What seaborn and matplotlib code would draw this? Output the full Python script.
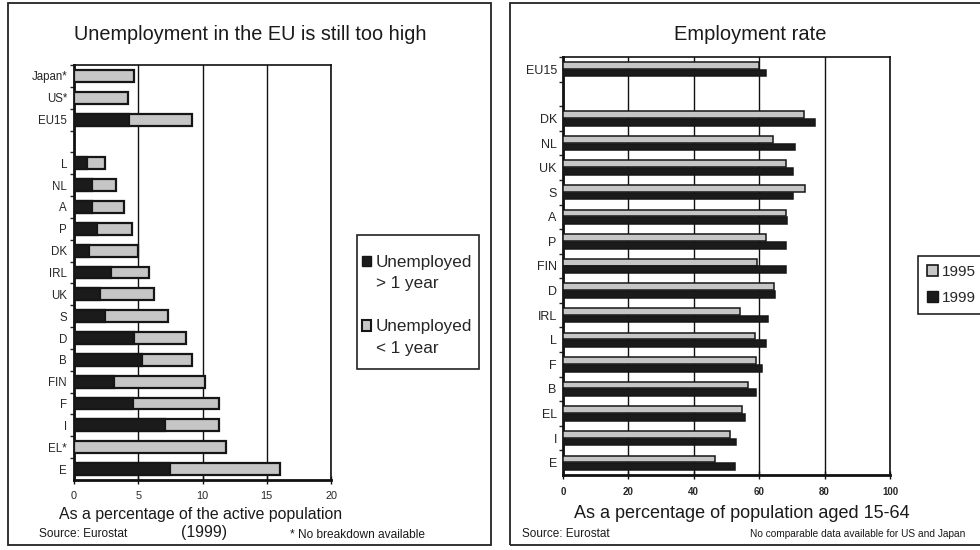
import numpy as np
import pandas as pd
import matplotlib
matplotlib.use("Agg")
import matplotlib.pyplot as plt
from matplotlib.patches import Patch, Rectangle
import seaborn as sns

# --- Unemployment, 1999, % of active population -------------------------
unemp_countries = ["Japan*", "US*", "EU15", "", "L", "NL", "A", "P", "DK",
                   "IRL", "UK", "S", "D", "B", "FIN", "F", "I", "EL*", "E"]
unemp_total = [4.7, 4.2, 9.2, np.nan, 2.4, 3.3, 3.9, 4.5, 5.0,
               5.8, 6.2, 7.3, 8.7, 9.2, 10.2, 11.3, 11.3, 11.8, 16.0]
unemp_long = [np.nan, np.nan, 4.3, np.nan, 1.0, 1.4, 1.4, 1.8, 1.2,
              2.9, 2.0, 2.4, 4.7, 5.3, 3.1, 4.6, 7.1, np.nan, 7.5]
unemp_ticks = [0, 5, 10, 15, 20]

# --- Employment rate, % of population aged 15-64 ------------------------
emp_countries = ["EU15", "", "DK", "NL", "UK", "S", "A", "P", "FIN", "D",
                 "IRL", "L", "F", "B", "EL", "I", "E"]
emp_1995 = [59.9, np.nan, 73.6, 64.2, 68.1, 73.9, 68.1, 62.2, 59.3, 64.5,
            54.0, 58.8, 59.1, 56.5, 54.7, 51.2, 46.4]
emp_1999 = [62.0, np.nan, 77.0, 70.9, 70.3, 70.3, 68.5, 68.1, 68.1, 64.9,
            62.7, 62.0, 61.0, 59.1, 55.6, 53.0, 52.5]
emp_years = ["1995", "1999"]
emp_ticks = [0, 20, 40, 60, 80, 100]

DARK = "#1b1b1b"
LIGHT = "#c6c6c6"
EDGE = "#161616"
INK = "#1a1a1a"

sns.set_style("white")
plt.rcParams["font.family"] = ["Liberation Sans", "DejaVu Sans"]

fig = plt.figure(figsize=(9.8, 5.5), dpi=100)
W, H = 980, 550


def fx(px):
    return px / W


def fy(py):
    return 1 - py / H


def box(x0, y0, x1, y1, lw=1.3):
    fig.patches.append(Rectangle((fx(x0), fy(y1)), (x1 - x0) / W, (y1 - y0) / H,
                                 transform=fig.transFigure, fill=False,
                                 edgecolor="#222222", lw=lw, zorder=0))


# panel frames
box(8, 3, 491, 545)
box(510, 3, 990, 545)

# ------------------------------------------------------------------ left
ax1 = fig.add_axes([fx(74), fy(480), (331 - 74) / W, (480 - 65) / H])
unemp = pd.DataFrame({"country": unemp_countries, "total": unemp_total,
                      "long": unemp_long})
sns.barplot(data=unemp.dropna(subset=["total"]), x="total", y="country",
            order=unemp_countries, color=LIGHT, saturation=1, width=0.54,
            edgecolor=EDGE, linewidth=1.6, errorbar=None, ax=ax1, zorder=3)
sns.barplot(data=unemp.dropna(subset=["long"]), x="long", y="country",
            order=unemp_countries, color=DARK, saturation=1, width=0.54,
            edgecolor=EDGE, linewidth=1.6, errorbar=None, ax=ax1, zorder=3)
ax1.set_xlim(0, 20)
ax1.set_ylim(len(unemp_countries) - 0.5, -0.5)
ax1.set_xticks(unemp_ticks)
ax1.set_xticklabels([str(t) for t in unemp_ticks], fontsize=7.8)
ax1.set_xlabel("")
ax1.set_ylabel("")
ax1.tick_params(axis="y", length=0, labelsize=8.3, pad=5)
ax1.set_yticks(np.arange(-0.5, len(unemp_countries) - 0.5), minor=True)
ax1.tick_params(axis="y", which="minor", length=3, width=1, direction="out",
                left=True, color="#222222")
ax1.tick_params(axis="x", length=6, width=1, direction="inout", pad=5,
                color="#111111", bottom=True)

# ----------------------------------------------------------------- right
ax2 = fig.add_axes([fx(563), fy(475), (890 - 563) / W, (475 - 57) / H])
emp = pd.DataFrame({
    "country": emp_countries * 2,
    "year": [emp_years[0]] * len(emp_countries) + [emp_years[1]] * len(emp_countries),
    "rate": emp_1995 + emp_1999,
}).dropna()
sns.barplot(data=emp, x="rate", y="country", hue="year", order=emp_countries,
            hue_order=emp_years, palette={"1995": LIGHT, "1999": DARK},
            saturation=1, width=0.62, gap=0.12, edgecolor=EDGE, linewidth=1.1,
            errorbar=None, ax=ax2, zorder=3, legend=False)
ax2.set_xlim(0, 100)
ax2.set_ylim(len(emp_countries) - 0.5, -0.5)
ax2.set_xticks(emp_ticks)
ax2.set_xticklabels([str(t) for t in emp_ticks], fontsize=7, fontweight="bold")
ax2.set_xlabel("")
ax2.set_ylabel("")
ax2.tick_params(axis="y", length=0, labelsize=9, pad=4.5)
ax2.set_yticks(np.arange(-0.5, len(emp_countries) - 0.5), minor=True)
ax2.tick_params(axis="y", which="minor", length=3, width=1, direction="out",
                left=True, color="#222222")
ax2.tick_params(axis="x", length=6, width=1, direction="inout", pad=5.5,
                color="#111111", bottom=True)

for ax in (ax1, ax2):
    ax.set_axisbelow(True)
    ax.xaxis.grid(True, color="#111111", lw=1.0)
    for side, sp in ax.spines.items():
        sp.set_visible(True)
        sp.set_color("#111111")
        sp.set_linewidth(2.0 if side in ("left", "bottom") else 1.2)

# ----------------------------------------------------------------- texts
fig.text(fx(250), fy(35), "Unemployment in the EU is still too high",
         ha="center", va="center", fontsize=14.3, color=INK)
fig.text(fx(750), fy(35), "Employment rate", ha="center", va="center",
         fontsize=14.5, color=INK)

fig.text(fx(201), fy(514), "As a percentage of the active population",
         ha="center", va="center", fontsize=11.4, color=INK)
fig.text(fx(742), fy(513), "As a percentage of population aged 15-64",
         ha="center", va="center", fontsize=13.0, color=INK)

fig.text(fx(39), fy(534), "Source: Eurostat", ha="left", va="center",
         fontsize=8.6, color=INK)
fig.text(fx(204), fy(533), "(1999)", ha="center", va="center",
         fontsize=11.3, color=INK)
fig.text(fx(290), fy(535), "* No breakdown available", ha="left",
         va="center", fontsize=8.6, color=INK)
fig.text(fx(522), fy(534), "Source: Eurostat", ha="left", va="center",
         fontsize=8.5, color=INK)
fig.text(fx(965), fy(534), "No comparable data available for US and Japan",
         ha="right", va="center", fontsize=7.3, color=INK)

# ---------------------------------------------------------------- legends
box(357, 235, 479, 369, lw=1.2)
blank = Patch(facecolor="none", edgecolor="none")
fig.legend(
    handles=[Patch(facecolor=DARK, edgecolor=EDGE), blank, blank,
             Patch(facecolor=LIGHT, edgecolor=EDGE, lw=1.5), blank],
    labels=["Unemployed", "> 1 year", " ", "Unemployed", "< 1 year"],
    loc="upper left", bbox_to_anchor=(fx(362), fy(255)),
    bbox_transform=fig.transFigure, fontsize=12.3, frameon=False,
    handlelength=0.55, handleheight=0.55, handletextpad=0.25,
    labelspacing=0.38, borderpad=0, borderaxespad=0)

leg2 = fig.legend(
    handles=[Patch(facecolor=LIGHT, edgecolor=EDGE, lw=1.2),
             Patch(facecolor=DARK, edgecolor=EDGE)],
    labels=emp_years, loc="upper left", bbox_to_anchor=(fx(918), fy(256)),
    bbox_transform=fig.transFigure, fontsize=11, frameon=True,
    fancybox=False, edgecolor="#111111", framealpha=1,
    handlelength=0.7, handleheight=0.7, handletextpad=0.25,
    labelspacing=0.75, borderpad=0.6, borderaxespad=0)
leg2.get_frame().set_linewidth(1.1)

fig.savefig("out.png", dpi=100)
